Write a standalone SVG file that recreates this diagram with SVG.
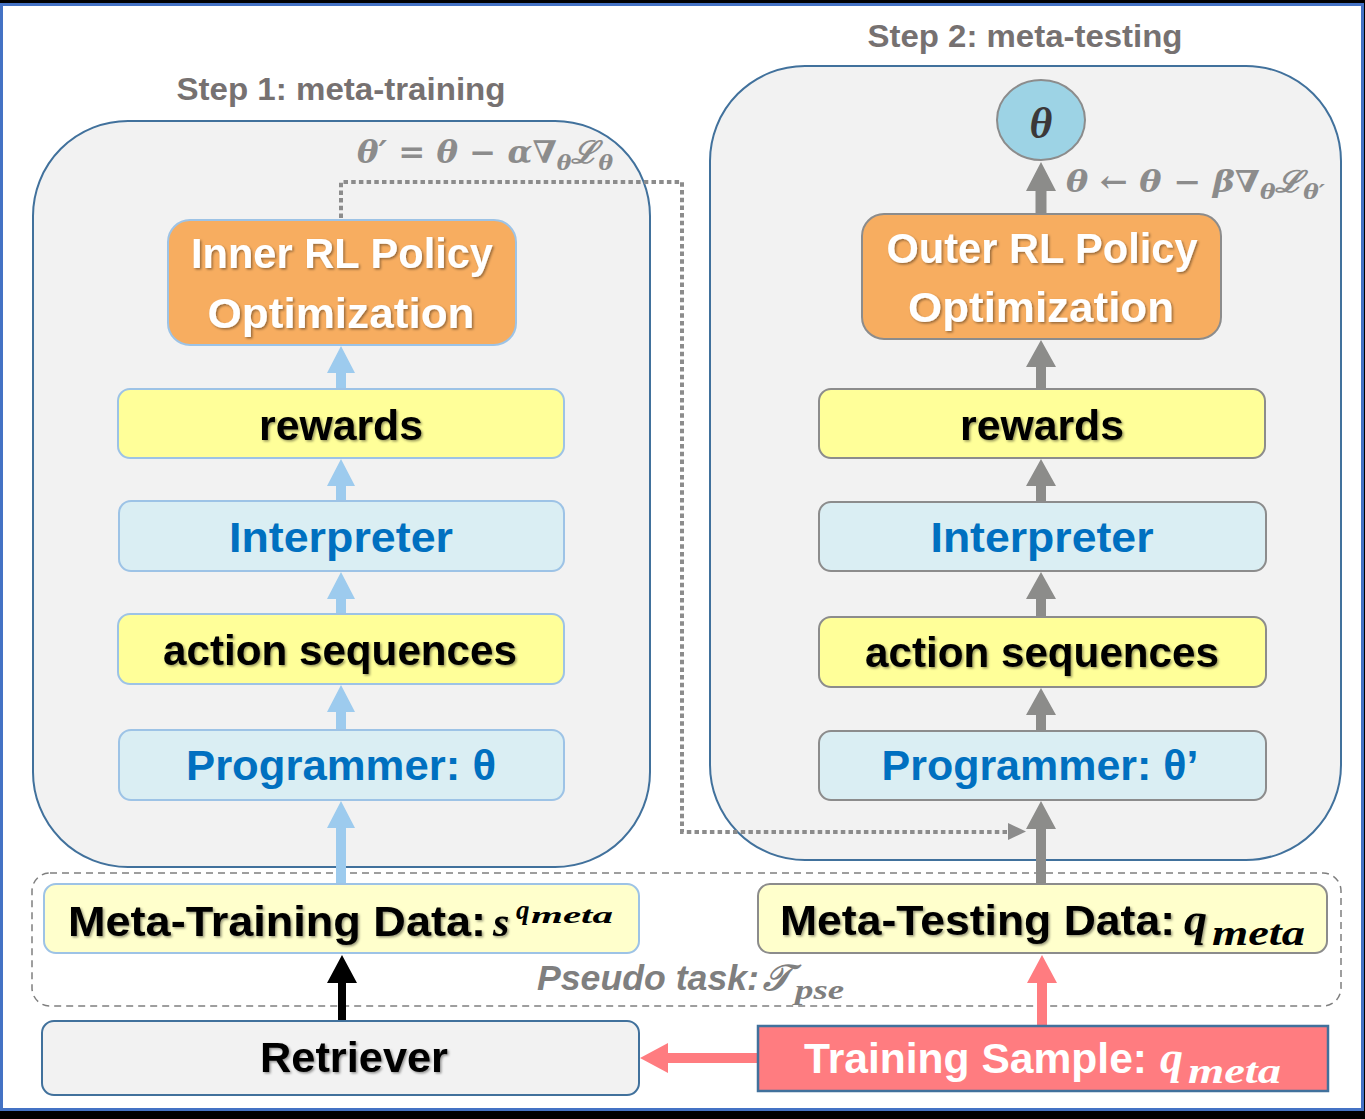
<svg xmlns="http://www.w3.org/2000/svg" width="1365" height="1119" viewBox="0 0 1365 1119">
<defs>
<filter id="sh" x="-10%" y="-30%" width="120%" height="160%">
<feDropShadow dx="1.5" dy="1.5" stdDeviation="1.2" flood-color="#000" flood-opacity="0.4"/>
</filter>
</defs>
<style>
.frame{fill:#fff;stroke:#4472c4;stroke-width:3}
.cont{fill:#f2f2f2;stroke:#41719c;stroke-width:2}
.title{font-family:"Liberation Sans",Arial,sans-serif;font-weight:bold;font-size:31px;fill:#767171;text-anchor:middle}
.lbox{stroke:#9dc3e6;stroke-width:2}
.rbox{stroke:#8c8c8c;stroke-width:2}
.yel{fill:#ffff99}
.lb{fill:#daeef3}
.org{fill:#f7ad60}
.pale{fill:#ffffcc}
.t{font-family:"Liberation Sans",Arial,sans-serif;font-weight:bold;font-size:43px;text-anchor:middle}
.ts{font-family:"Liberation Sans",Arial,sans-serif;font-weight:bold;font-size:43px;text-anchor:start}
.blk{fill:#000}
.blu{fill:#0070c0}
.wht{fill:#fff}
.math{font-family:"Liberation Serif","DejaVu Serif",serif;font-style:italic;font-weight:bold}
.eq{font-family:"DejaVu Serif","Liberation Serif",serif;font-style:italic;font-weight:bold;fill:#8c8c8c}
.aBlue{fill:#9dcbee}
.aGray{fill:#8c8c8a}
.aPink{fill:#ff7c80}
.aBlack{fill:#000}
</style>
<rect x="0" y="0" width="1365" height="1119" fill="#000"/>
<rect class="frame" x="1.5" y="4.5" width="1361" height="1105"/>

<g id="step1-container">
<rect class="cont" x="33" y="121" width="617" height="746" rx="95" ry="95"/>
<text class="title" x="341" y="100" textLength="329" lengthAdjust="spacingAndGlyphs">Step 1: meta-training</text>
</g>
<g id="step2-container">
<rect class="cont" x="710" y="66" width="631" height="794" rx="95" ry="95"/>
<text class="title" x="1025" y="47" textLength="315" lengthAdjust="spacingAndGlyphs">Step 2: meta-testing</text>
</g>
<g id="pseudo-task">
<rect x="32" y="873" width="1309" height="133" rx="18" ry="18" fill="none" stroke="#7f7f7f" stroke-width="1.5" stroke-dasharray="7 5"/>
<text x="537" y="990" font-family="Liberation Sans,Arial,sans-serif" font-style="italic" font-weight="bold" font-size="35" fill="#7f7f7f" textLength="222" lengthAdjust="spacingAndGlyphs">Pseudo task:</text>
<text class="math" x="763" y="990" font-size="36" fill="#7f7f7f" font-weight="normal">𝒯</text>
<text class="math" x="795" y="999" font-size="28" fill="#7f7f7f" font-weight="normal" textLength="49" lengthAdjust="spacingAndGlyphs">pse</text>
</g>

<g id="connectors">
<path d="M341 218 V182 H682 V832 H1010" fill="none" stroke="#8c8c8c" stroke-width="4" stroke-dasharray="4.5 3.2"/>
<polygon points="1008,823 1026,831.5 1008,840" fill="#8c8c8c"/>
<path class="aBlue" d="M341 801 L355 828 L346 828 L346 884 L336 884 L336 828 L327 828 Z"/>
<path class="aBlue" d="M341 685 L355 712 L346 712 L346 730 L336 730 L336 712 L327 712 Z"/>
<path class="aBlue" d="M341 572 L355 599 L346 599 L346 614 L336 614 L336 599 L327 599 Z"/>
<path class="aBlue" d="M341 459 L355 486 L346 486 L346 501 L336 501 L336 486 L327 486 Z"/>
<path class="aBlue" d="M341 346 L355 373 L346 373 L346 389 L336 389 L336 373 L327 373 Z"/>
<path class="aGray" d="M1041 801 L1056 829 L1046 829 L1046 884 L1036 884 L1036 829 L1026 829 Z"/>
<path class="aGray" d="M1041 688 L1056 715 L1046 715 L1046 731 L1036 731 L1036 715 L1026 715 Z"/>
<path class="aGray" d="M1041 572 L1056 599 L1046 599 L1046 617 L1036 617 L1036 599 L1026 599 Z"/>
<path class="aGray" d="M1041 459 L1056 486 L1046 486 L1046 502 L1036 502 L1036 486 L1026 486 Z"/>
<path class="aGray" d="M1041 340 L1056 367 L1046 367 L1046 389 L1036 389 L1036 367 L1026 367 Z"/>
<path class="aGray" d="M1041 162 L1056 191 L1046.5 191 L1046.5 214 L1035.5 214 L1035.5 191 L1026 191 Z"/>
<path class="aBlack" d="M342 955 L357 983 L346 983 L346 1021 L338 1021 L338 983 L327 983 Z"/>
<path class="aPink" d="M1042 955 L1057 983 L1047 983 L1047 1026 L1037 1026 L1037 983 L1027 983 Z"/>
<path class="aPink" d="M640 1058 L668 1043 L668 1053 L758 1053 L758 1063 L668 1063 L668 1073 Z"/>
</g>

<g id="label-inner-update">
<text class="eq" x="357" y="163" font-size="31" textLength="256" lengthAdjust="spacingAndGlyphs">θ′ = θ − α∇<tspan font-size="21" dy="7">θ</tspan><tspan dy="-7" font-size="31">ℒ</tspan><tspan font-size="21" dy="7">θ</tspan></text>
</g>
<g id="label-outer-update">
<text class="eq" x="1066" y="192" font-size="30" textLength="259" lengthAdjust="spacingAndGlyphs">θ ← θ − β∇<tspan font-size="21" dy="7">θ</tspan><tspan dy="-7" font-size="30">ℒ</tspan><tspan font-size="21" dy="7">θ′</tspan></text>
</g>

<g id="inner-rl">
<rect class="org lbox" x="168" y="220" width="348" height="125" rx="22" ry="22"/>
<text class="t wht" filter="url(#sh)" x="342" y="268" textLength="302" lengthAdjust="spacingAndGlyphs">Inner RL Policy</text>
<text class="t wht" filter="url(#sh)" x="341" y="328" textLength="267" lengthAdjust="spacingAndGlyphs">Optimization</text>
</g>
<g id="rewards-1">
<rect class="yel lbox" x="118" y="389" width="446" height="69" rx="12" ry="12"/>
<text class="t blk" filter="url(#sh)" x="341" y="440" textLength="164" lengthAdjust="spacingAndGlyphs">rewards</text>
</g>
<g id="interpreter-1">
<rect class="lb lbox" x="119" y="501" width="445" height="70" rx="12" ry="12"/>
<text class="t blu" x="341" y="552" textLength="224" lengthAdjust="spacingAndGlyphs">Interpreter</text>
</g>
<g id="actions-1">
<rect class="yel lbox" x="118" y="614" width="446" height="70" rx="12" ry="12"/>
<text class="t blk" filter="url(#sh)" x="340" y="665" textLength="354" lengthAdjust="spacingAndGlyphs">action sequences</text>
</g>
<g id="programmer-1">
<rect class="lb lbox" x="119" y="730" width="445" height="70" rx="12" ry="12"/>
<text class="t blu" x="341" y="780" textLength="310" lengthAdjust="spacingAndGlyphs">Programmer: θ</text>
</g>

<g id="theta">
<ellipse cx="1041" cy="120" rx="44" ry="40" fill="#9dd3e5" stroke="#8c8c8c" stroke-width="2"/>
<text class="math" x="1041" y="138" font-size="44" fill="#3b3838" text-anchor="middle">θ</text>
</g>
<g id="outer-rl">
<rect class="org rbox" x="862" y="214" width="359" height="125" rx="22" ry="22"/>
<text class="t wht" filter="url(#sh)" x="1042" y="263" textLength="311" lengthAdjust="spacingAndGlyphs">Outer RL Policy</text>
<text class="t wht" filter="url(#sh)" x="1041" y="322" textLength="266" lengthAdjust="spacingAndGlyphs">Optimization</text>
</g>
<g id="rewards-2">
<rect class="yel rbox" x="819" y="389" width="446" height="69" rx="12" ry="12"/>
<text class="t blk" filter="url(#sh)" x="1042" y="440" textLength="164" lengthAdjust="spacingAndGlyphs">rewards</text>
</g>
<g id="interpreter-2">
<rect class="lb rbox" x="819" y="502" width="447" height="69" rx="12" ry="12"/>
<text class="t blu" x="1042" y="552" textLength="223" lengthAdjust="spacingAndGlyphs">Interpreter</text>
</g>
<g id="actions-2">
<rect class="yel rbox" x="819" y="617" width="447" height="70" rx="12" ry="12"/>
<text class="t blk" filter="url(#sh)" x="1042" y="667" textLength="354" lengthAdjust="spacingAndGlyphs">action sequences</text>
</g>
<g id="programmer-2">
<rect class="lb rbox" x="819" y="731" width="447" height="69" rx="12" ry="12"/>
<text class="t blu" x="1040" y="780" textLength="317" lengthAdjust="spacingAndGlyphs">Programmer: θ’</text>
</g>

<g id="meta-training-data">
<rect class="pale lbox" x="44" y="884" width="595" height="69" rx="12" ry="12"/>
<text class="ts blk" filter="url(#sh)" x="68" y="936" textLength="418" lengthAdjust="spacingAndGlyphs">Meta-Training Data:</text>
<text class="math" x="493" y="936" font-size="42" fill="#000" filter="url(#sh)">s</text>
<text class="math" x="516" y="919" font-size="27" fill="#000">q</text>
<text class="math" x="531" y="923" font-size="23" fill="#000" textLength="82" lengthAdjust="spacingAndGlyphs">meta</text>
</g>
<g id="meta-testing-data">
<rect class="pale rbox" x="758" y="884" width="569" height="69" rx="12" ry="12"/>
<text class="ts blk" filter="url(#sh)" x="780" y="935" textLength="395" lengthAdjust="spacingAndGlyphs">Meta-Testing Data:</text>
<text class="math" x="1184" y="935" font-size="46" fill="#000" filter="url(#sh)">q</text>
<text class="math" x="1212" y="945" font-size="35" fill="#000" textLength="93" lengthAdjust="spacingAndGlyphs">meta</text>
</g>
<g id="retriever">
<rect x="42" y="1021" width="597" height="74" rx="12" ry="12" fill="#f2f2f2" stroke="#41719c" stroke-width="2"/>
<text class="t blk" filter="url(#sh)" x="354" y="1072" textLength="188" lengthAdjust="spacingAndGlyphs">Retriever</text>
</g>
<g id="training-sample">
<rect x="758" y="1026" width="570" height="65" fill="#ff7c80" stroke="#41719c" stroke-width="2.5"/>
<text class="ts wht" x="804" y="1073" textLength="343" lengthAdjust="spacingAndGlyphs">Training Sample:</text>
<text class="math" x="1160" y="1073" font-size="46" fill="#fff">q</text>
<text class="math" x="1188" y="1083" font-size="35" fill="#fff" textLength="93" lengthAdjust="spacingAndGlyphs">meta</text>
</g>
</svg>
